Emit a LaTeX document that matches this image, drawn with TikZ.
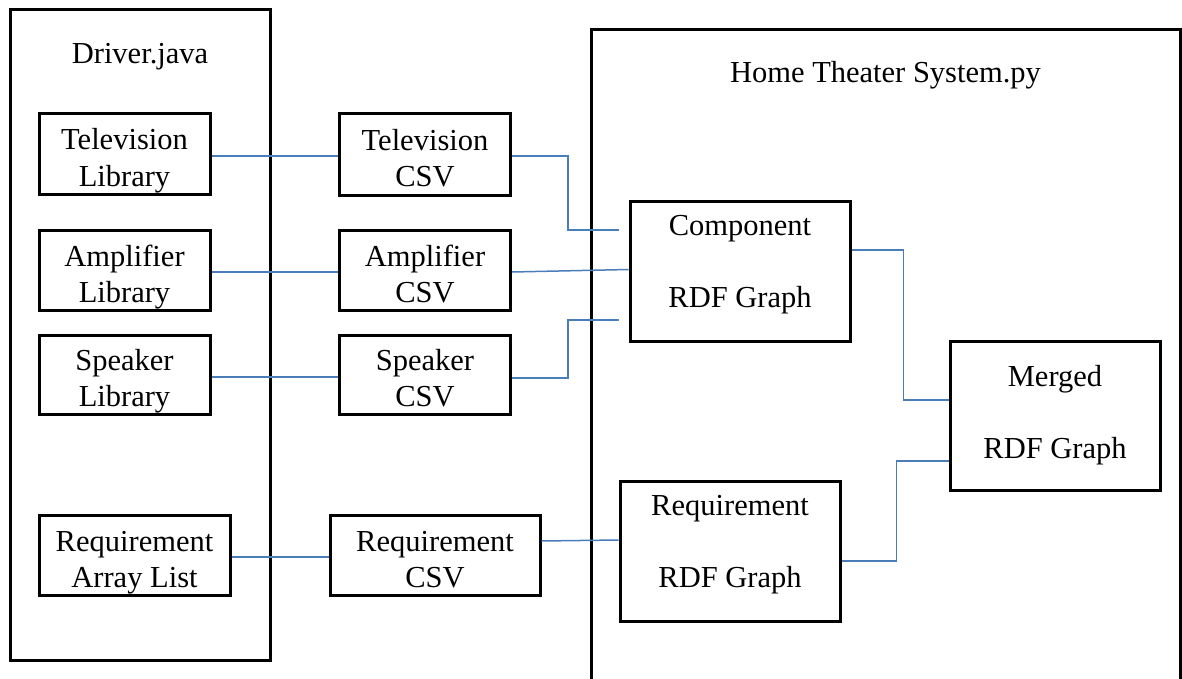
\documentclass[tikz,border=0pt]{standalone}
\usepackage{fontspec}
\setmainfont{Liberation Serif}
\usetikzlibrary{calc}
\definecolor{linkblue}{HTML}{4A7EBB}
\begin{document}
\begin{tikzpicture}[x=1pt,y=-1pt,
  box/.style={draw=black,line width=3pt,rectangle,inner sep=0pt,align=center,
    font=\fontsize{30.5}{36}\selectfont},
  twoline/.style={text height=70pt,text depth=6pt},
  dbl/.style={font=\fontsize{30.5}{72}\selectfont},
  title/.style={inner sep=0pt,anchor=base,font=\fontsize{30.5}{36}\selectfont},
  conn/.style={draw=linkblue,line width=1.5pt}]
\useasboundingbox (0,0) rectangle (1182,679);
% containers
\node[box,minimum width=260pt,minimum height=650pt] (drv) at (140,335) {};
\node[title] (drvtitle) at (140,64) {Driver.java};
\draw[line width=3pt] (591,682) -- (591,30) -- (1180,30) -- (1180,682);
\coordinate (htsc) at (885.5,83);
\node[title] (htstitle) at (htsc) {Home Theater System.py};
% left column
\node[box,twoline,minimum width=171pt,minimum height=80pt] (tvl) at (124.5,154) {Television\\Library};
\node[box,twoline,minimum width=171pt,minimum height=80pt] (ampl) at (124.5,270) {Amplifier\\Library};
\node[box,twoline,minimum width=171pt,minimum height=79pt] (spkl) at (124.5,374.5) {Speaker\\Library};
\node[box,twoline,minimum width=191pt,minimum height=80pt] (reqal) at (134.5,555) {Requirement\\Array List};
% CSV column
\node[box,twoline,minimum width=171pt,minimum height=81pt] (tvc) at (425,154.5) {Television\\CSV};
\node[box,twoline,minimum width=171pt,minimum height=80pt] (ampc) at (425,270) {Amplifier\\CSV};
\node[box,twoline,minimum width=171pt,minimum height=79pt] (spkc) at (425,374.5) {Speaker\\CSV};
\node[box,twoline,minimum width=210pt,minimum height=80pt] (reqc) at (435,555) {Requirement\\CSV};
% RDF graphs
\node[box,dbl,text height=80pt,text depth=8pt,minimum width=220pt,minimum height=140pt] (comp) at (740,271) {Component\\RDF Graph};
\node[box,dbl,text height=93pt,text depth=8pt,minimum width=210pt,minimum height=149pt] (merged) at (1055,415.5) {Merged\\RDF Graph};
\node[box,dbl,text height=80pt,text depth=8pt,minimum width=220pt,minimum height=140pt] (reqr) at (730,551) {Requirement\\RDF Graph};
% connectors
\draw[conn] ($(tvl.east)+(0,2)$) -- ($(tvc.west)+(0,1.5)$);
\draw[conn] ($(ampl.east)+(0,2)$) -- ($(ampc.west)+(0,2)$);
\draw[conn] ($(spkl.east)+(0,2.5)$) -- ($(spkc.west)+(0,2.5)$);
\draw[conn] ($(reqal.east)+(0,2)$) -- ($(reqc.west)+(0,2)$);
\coordinate (tvend) at ($(comp.west)+(-10,-41)$);
\coordinate (spkend) at ($(comp.west)+(-10,49)$);
\draw[conn] ($(tvc.east)+(0,1.5)$) -- ++(56,0) |- (tvend);
\draw[conn] ($(ampc.east)+(0,2)$) -- ($(comp.west)+(0,-1.5)$);
\draw[conn] ($(spkc.east)+(0,3.5)$) -- ++(56,0) |- (spkend);
\draw[conn] ($(reqc.east)+(0,-14)$) -- ($(reqr.west)+(0,-11)$);
\draw[conn] ($(comp.east)+(0,-21)$) -- ++(52,0) |- ($(merged.west)+(0,-15.5)$);
\draw[conn] ($(reqr.east)+(0,10)$) -- ++(55,0) |- ($(merged.west)+(0,45.5)$);
\end{tikzpicture}
\end{document}
